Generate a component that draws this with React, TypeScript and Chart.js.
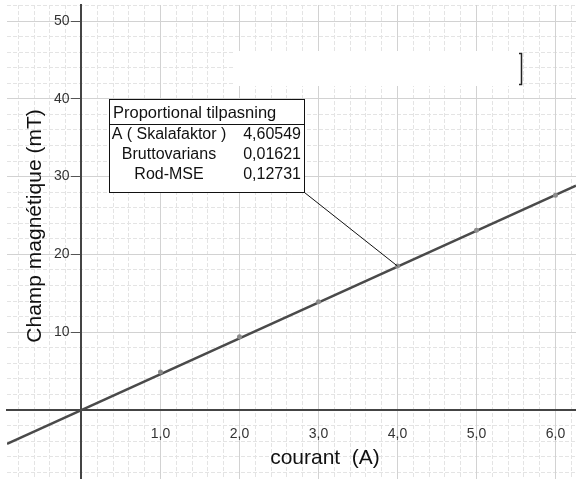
import React, { useEffect, useRef } from "react";
import { Chart, registerables } from "chart.js";

Chart.register(...registerables);

// ---- data ----
const currents = [1, 2, 3, 4, 5, 6];
const fields = [4.9, 9.4, 13.9, 18.5, 23.1, 27.6];
const fitX = [-0.943, 6.26];
const fitY = [-4.34, 28.83];
const xRange = [-0.943, 6.26];
const yRange = [-8.87, 52.06];
const yTickLabels = [10, 20, 30, 40, 50];
const xTitle = "courant  (A)";
const yTitle = "Champ magnétique (mT)";
const boxTitle = "Proportional tilpasning";
const boxLabels = ["A ( Skalafaktor )", "Bruttovarians", "Rod-MSE"];
const boxValues = ["4,60549", "0,01621", "0,12731"];
const calloutIndex = 3;

const FONT = "'Liberation Sans', Arial, sans-serif";

const zeroPad = (s: any) => {
  s.paddingTop = 0;
  s.paddingBottom = 0;
  s.paddingLeft = 0;
  s.paddingRight = 0;
};

const overlay = {
  id: "overlay",
  afterDraw(chart: any) {
    const ctx = chart.ctx;
    const xs = chart.scales.x;
    const ys = chart.scales.y;
    ctx.save();

    // y tick labels, left of the y axis
    const axisX = xs.getPixelForValue(0);
    ctx.fillStyle = "#333";
    ctx.font = `14px ${FONT}`;
    ctx.textAlign = "right";
    ctx.textBaseline = "middle";
    for (const v of yTickLabels) {
      ctx.fillText(String(v), axisX - 12, ys.getPixelForValue(v));
    }

    // white patch with bracket
    ctx.fillStyle = "#ffffff";
    ctx.fillRect(233, 51, 289, 35);
    ctx.strokeStyle = "#222";
    ctx.lineWidth = 1.5;
    ctx.beginPath();
    ctx.moveTo(519, 53.5);
    ctx.lineTo(521.5, 53.5);
    ctx.lineTo(521.5, 84.5);
    ctx.lineTo(519, 84.5);
    ctx.stroke();

    // callout line
    const px = xs.getPixelForValue(currents[calloutIndex]);
    const py = ys.getPixelForValue(fields[calloutIndex]);
    const bx = 109.5, by = 99.5, bw = 195, bh = 93;
    ctx.strokeStyle = "#111";
    ctx.lineWidth = 1;
    ctx.beginPath();
    ctx.moveTo(bx + bw, by + bh);
    ctx.lineTo(px, py);
    ctx.stroke();

    // box
    ctx.fillStyle = "#ffffff";
    ctx.fillRect(bx, by, bw, bh);
    ctx.strokeStyle = "#111";
    ctx.strokeRect(bx, by, bw, bh);
    ctx.beginPath();
    ctx.moveTo(bx, 124.5);
    ctx.lineTo(bx + bw, 124.5);
    ctx.stroke();

    ctx.fillStyle = "#111";
    ctx.font = `16.5px ${FONT}`;
    ctx.textBaseline = "middle";
    ctx.textAlign = "left";
    ctx.fillText(boxTitle, 113, 113);
    ctx.font = `16px ${FONT}`;
    const rowsY = [135, 155, 175];
    for (let i = 0; i < boxLabels.length; i++) {
      ctx.textAlign = "center";
      ctx.fillText(boxLabels[i], 169, rowsY[i]);
      ctx.textAlign = "right";
      ctx.fillText(boxValues[i], 301, rowsY[i]);
    }

    // axis titles
    ctx.fillStyle = "#111";
    ctx.font = `21px ${FONT}`;
    ctx.textAlign = "center";
    ctx.fillText(xTitle, 325, 458);
    ctx.translate(35, 226);
    ctx.rotate(-Math.PI / 2);
    ctx.fillText(yTitle, 0, 0);
    ctx.restore();
  },
};

export default function App() {
  const ref = useRef<HTMLCanvasElement | null>(null);

  useEffect(() => {
    if (!ref.current) return;
    const chart = new Chart(ref.current, {
      type: "scatter",
      data: {
        datasets: [
          {
            label: "mesures",
            data: currents.map((c, i) => ({ x: c, y: fields[i] })),
            pointRadius: 2.5,
            pointBackgroundColor: "#8c8c8c",
            pointBorderWidth: 0,
            showLine: false,
          },
          {
            label: "ajustement",
            data: fitX.map((x, i) => ({ x, y: fitY[i] })),
            showLine: true,
            borderColor: "#4a4a4a",
            borderWidth: 2.5,
            pointRadius: 0,
            tension: 0,
          },
        ],
      },
      options: {
        responsive: false,
        animation: false,
        layout: { autoPadding: false, padding: { left: 7, top: 5, right: 0, bottom: 0 } },
        plugins: { legend: { display: false }, tooltip: { enabled: false } },
        scales: {
          xm: {
            type: "linear",
            axis: "x",
            position: { y: 0 },
            min: xRange[0],
            max: xRange[1],
            ticks: { display: false, stepSize: 0.2, includeBounds: false },
            grid: { color: "#e4e4e4", lineWidth: 1, drawTicks: false, z: -2 },
            border: { display: false, dash: [4, 2] },
            afterFit: zeroPad,
          },
          ym: {
            type: "linear",
            axis: "y",
            position: { x: 0 },
            min: yRange[0],
            max: yRange[1],
            ticks: { display: false, stepSize: 2, includeBounds: false },
            grid: { color: "#e4e4e4", lineWidth: 1, drawTicks: false, z: -2 },
            border: { display: false, dash: [4, 2] },
            afterFit: zeroPad,
          },
          x: {
            type: "linear",
            position: { y: 0 },
            min: xRange[0],
            max: xRange[1],
            ticks: {
              stepSize: 1,
              includeBounds: false,
              padding: 16,
              color: "#333",
              font: { family: FONT, size: 14 },
              callback: (v: any) => (v >= 1 ? Number(v).toFixed(1).replace(".", ",") : ""),
            },
            grid: { color: "#d2d2d2", lineWidth: 1, drawTicks: false, z: -1 },
            border: { color: "#444", width: 2 },
            afterFit: zeroPad,
          },
          y: {
            type: "linear",
            position: { x: 0 },
            min: yRange[0],
            max: yRange[1],
            ticks: { stepSize: 10, includeBounds: false, display: false },
            grid: {
              color: "#d2d2d2",
              lineWidth: 1,
              drawTicks: true,
              tickLength: 9,
              tickColor: "#555",
              tickWidth: 1,
              z: -1,
            },
            border: { color: "#444", width: 2 },
            afterFit: zeroPad,
          },
        },
      },
      plugins: [overlay],
    });
    return () => chart.destroy();
  }, []);

  return (
    <div style={{ position: "fixed", left: 0, top: 0, width: 576, height: 479, background: "#fff" }}>
      <canvas ref={ref} width={576} height={479} style={{ display: "block" }} />
    </div>
  );
}
